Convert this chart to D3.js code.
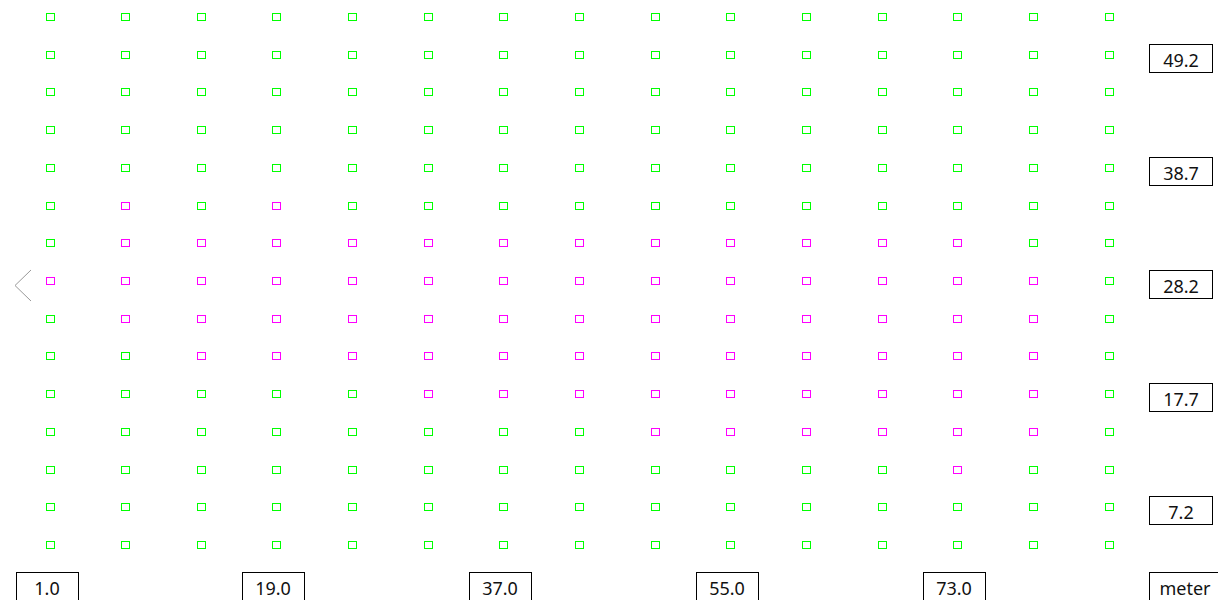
<!DOCTYPE html>
<html>
<head>
<meta charset="utf-8">
<script src="https://cdn.jsdelivr.net/npm/d3@7"></script>
<style>
  body { margin: 0; background: #fff; }
  svg { display: block; font-family: "Noto Sans", sans-serif; }
</style>
</head>
<body>
<script>
// grid positions (x in column units, y in meters)
const xValues = [1, 7, 13, 19, 25, 31, 37, 43, 49, 55, 61, 67, 73, 79, 85]
const yValues = [52.7, 49.2, 45.7, 42.2, 38.7, 35.2, 31.7, 28.2, 24.7, 21.2, 17.7, 14.2, 10.7, 7.2, 3.7]

// class of each cell, top row first: 0 = green, 1 = magenta
const cellClass = [
  [0,0,0,0,0,0,0,0,0,0,0,0,0,0,0],
  [0,0,0,0,0,0,0,0,0,0,0,0,0,0,0],
  [0,0,0,0,0,0,0,0,0,0,0,0,0,0,0],
  [0,0,0,0,0,0,0,0,0,0,0,0,0,0,0],
  [0,0,0,0,0,0,0,0,0,0,0,0,0,0,0],
  [0,1,0,1,0,0,0,0,0,0,0,0,0,0,0],
  [0,1,1,1,1,1,1,1,1,1,1,1,1,0,0],
  [1,1,1,1,1,1,1,1,1,1,1,1,1,1,0],
  [0,1,1,1,1,1,1,1,1,1,1,1,1,1,0],
  [0,0,1,1,1,1,1,1,1,1,1,1,1,1,0],
  [0,0,0,0,0,1,1,1,1,1,1,1,1,1,0],
  [0,0,0,0,0,0,0,0,1,1,1,1,1,1,0],
  [0,0,0,0,0,0,0,0,0,0,0,0,1,0,0],
  [0,0,0,0,0,0,0,0,0,0,0,0,0,0,0],
  [0,0,0,0,0,0,0,0,0,0,0,0,0,0,0]
]

const xTicks = [1, 19, 37, 55, 73]
const yTicks = [49.2, 38.7, 28.2, 17.7, 7.2]
const unitLabel = "meter"

const width = 1218
const height = 600

const x = d3.scaleLinear().domain([1, 85]).range([49.5, 1108.5])
const y = d3.scaleLinear().domain([3.7, 52.7]).range([545, 17])
const color = d3.scaleOrdinal().domain([0, 1]).range(["#00ff00", "#ff00ff"])

const svg = d3.select("body").append("svg")
    .attr("width", width)
    .attr("height", height)

const cells = d3.cross(d3.range(yValues.length), d3.range(xValues.length))
    .map(([i, j]) => ({ xv: xValues[j], yv: yValues[i], c: cellClass[i][j] }))

svg.append("g")
  .selectAll("rect")
  .data(cells)
  .join("rect")
    .attr("x", d => Math.round(x(d.xv)) - 4 + 0.5)
    .attr("y", d => Math.round(y(d.yv)) - 4 + 0.5)
    .attr("width", 8)
    .attr("height", 7)
    .attr("fill", "none")
    .attr("stroke", d => color(d.c))
    .attr("stroke-width", 1)

// bottom labels
const xLab = svg.append("g").selectAll("g")
  .data(xTicks)
  .join("g")
    .attr("transform", d => `translate(${Math.round(x(d)) - 3},572)`)

xLab.append("rect")
    .attr("x", -31 + 0.5).attr("y", 0.5)
    .attr("width", 62).attr("height", 34)
    .attr("fill", "#fff").attr("stroke", "#000")

xLab.append("text")
    .attr("y", 23)
    .attr("text-anchor", "middle")
    .style("font-size", "18px")
    .attr("fill", "#111")
    .text(d => d.toFixed(1))

// right labels
const yLab = svg.append("g").selectAll("g")
  .data(yTicks)
  .join("g")
    .attr("transform", d => `translate(1149,${Math.round(y(d))})`)

yLab.append("rect")
    .attr("x", 0.5).attr("y", -11 + 0.5)
    .attr("width", 63).attr("height", 28)
    .attr("fill", "#fff").attr("stroke", "#000")

yLab.append("text")
    .attr("x", 32)
    .attr("y", 12)
    .attr("text-anchor", "middle")
    .style("font-size", "18px")
    .attr("fill", "#111")
    .text(d => d.toFixed(1))

// unit box
const unit = svg.append("g").attr("transform", "translate(1149,572)")
unit.append("rect")
    .attr("x", 0.5).attr("y", 0.5)
    .attr("width", 80).attr("height", 34)
    .attr("fill", "#fff").attr("stroke", "#000")
unit.append("text")
    .attr("x", 36)
    .attr("y", 23)
    .attr("text-anchor", "middle")
    .style("font-size", "18px")
    .attr("fill", "#111")
    .text(unitLabel)

// left chevron
svg.append("path")
    .attr("d", d3.line()([[31, 270], [15, 285.5], [31, 301]]))
    .attr("fill", "none")
    .attr("stroke", "#999")
    .attr("stroke-width", 1)
</script>
</body>
</html>
